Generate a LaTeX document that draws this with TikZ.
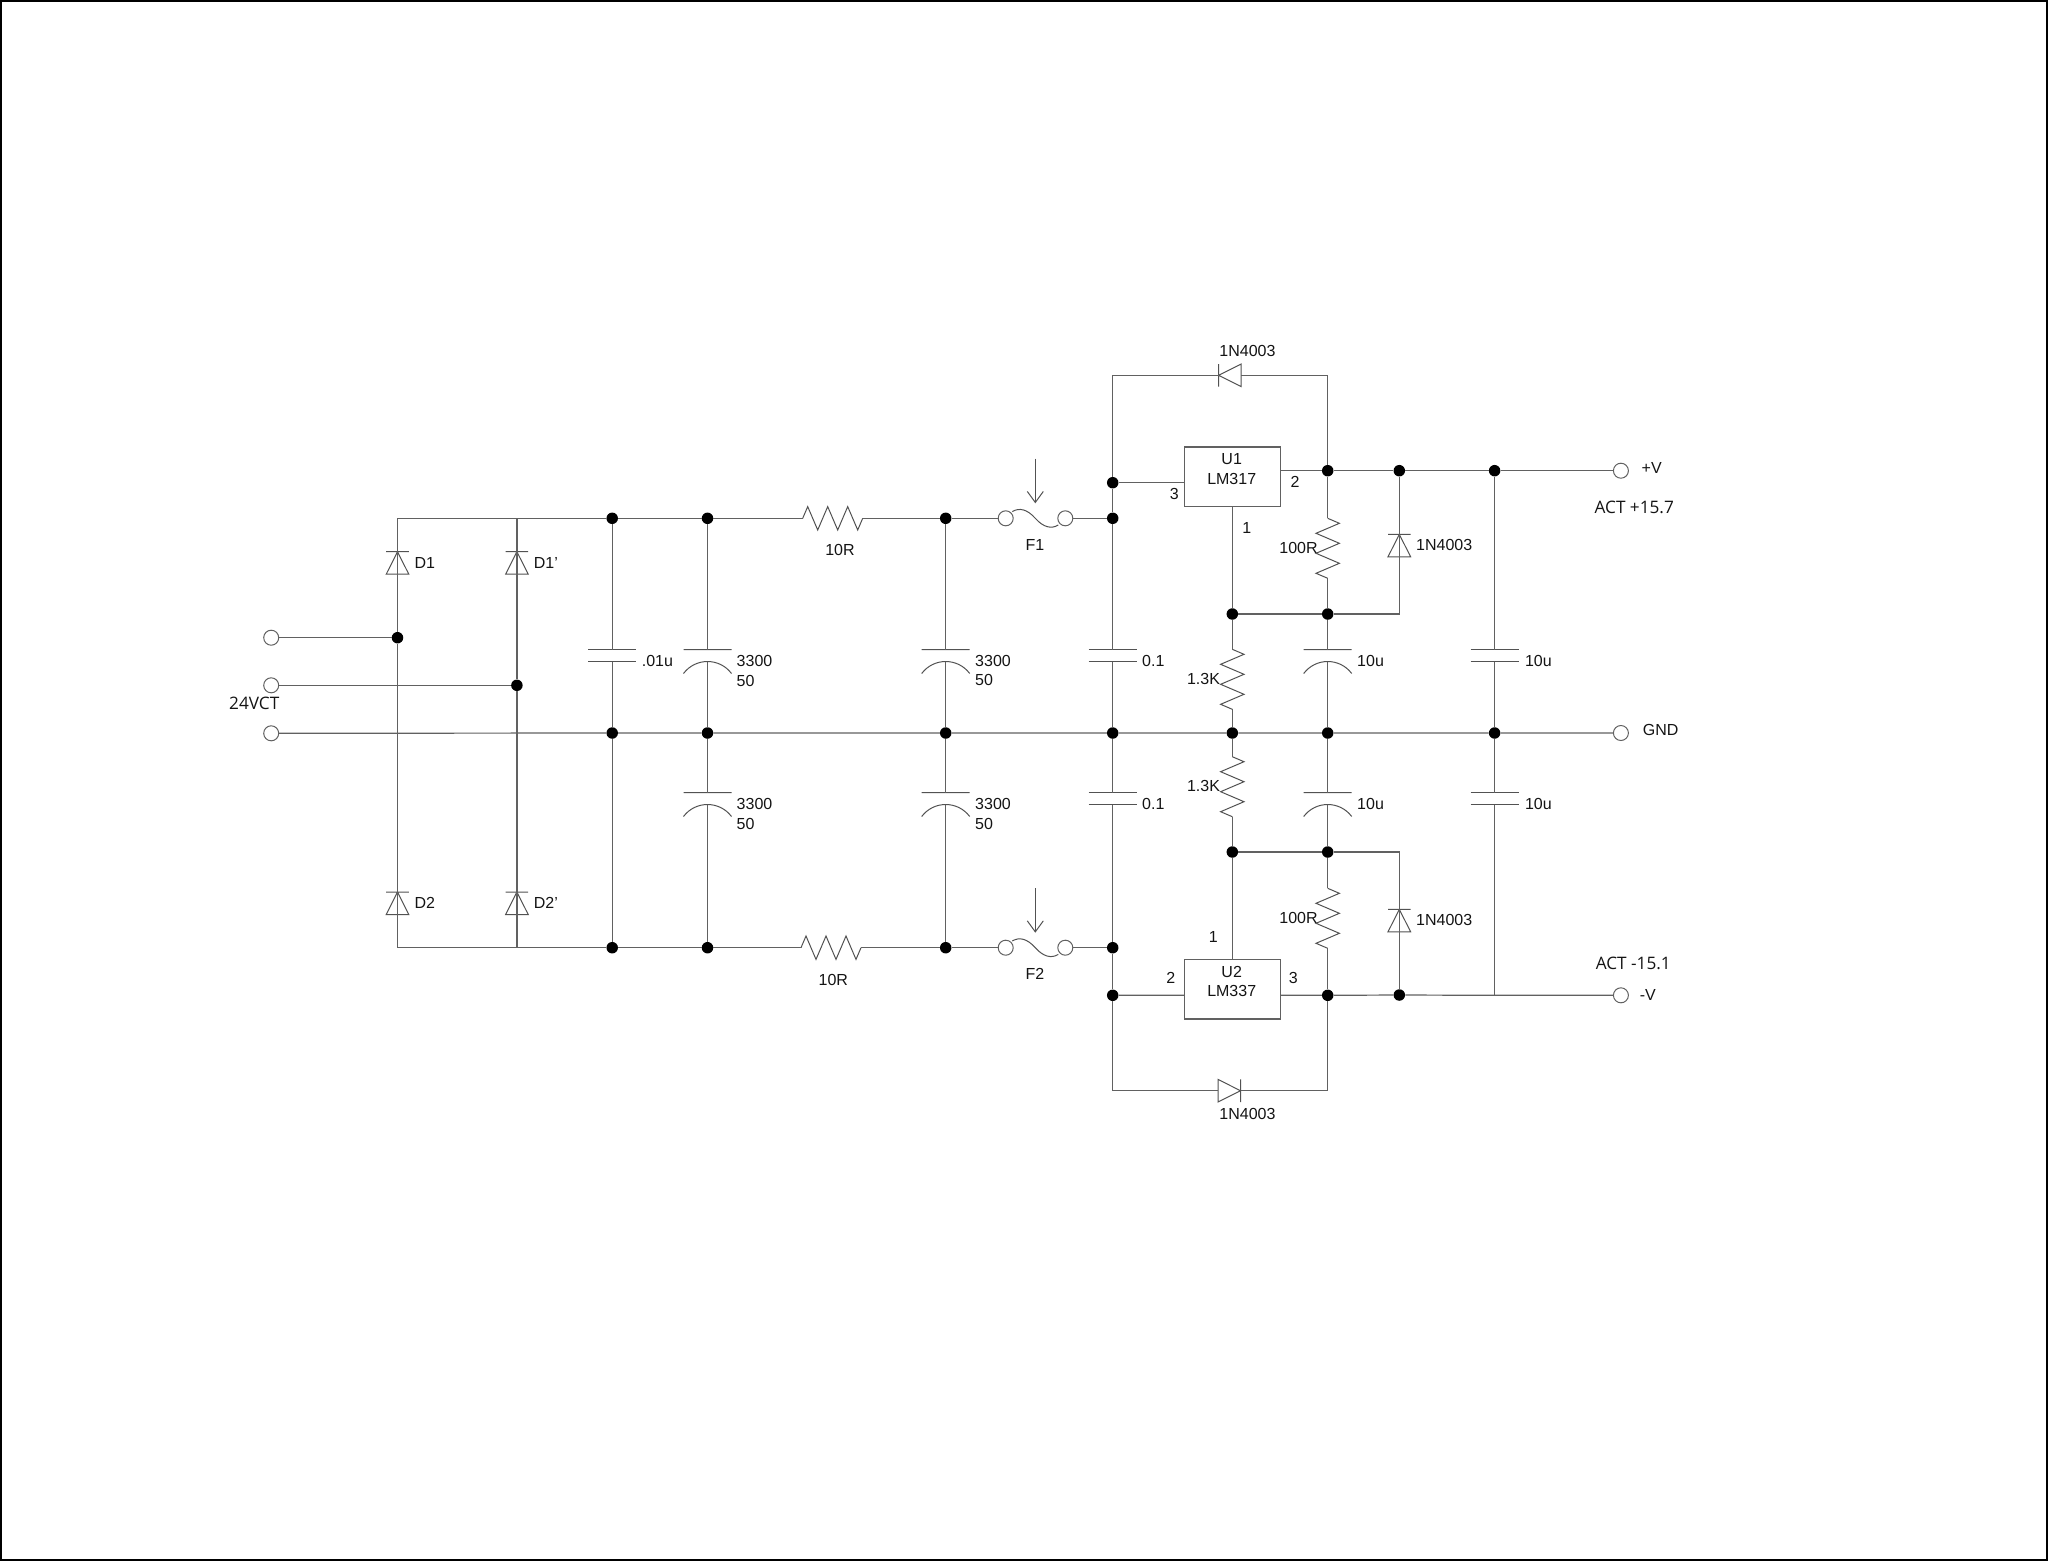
\documentclass[tikz,border=0pt]{standalone}
\usepackage{fontspec}
\setmainfont{Liberation Sans}
\newfontfamily\actfont{Open Sans}
\usetikzlibrary{arrows.meta}

\tikzset{
  wire/.style={line width=1.2pt,color=black!62},
  thin wire/.style={line width=1pt,color=black!68},
  dot/.style={circle,fill=black,inner sep=0pt,minimum size=11.5pt},
  term/.style={circle,draw=black!62,line width=1pt,inner sep=0pt,minimum size=15pt},
  lab/.style={inner sep=0pt,text height=11.5pt,text depth=0pt,font=\fontsize{16}{18}\selectfont,text=black!92},
  act/.style={lab,anchor=west,font=\actfont\fontsize{17.2}{19}\selectfont},
  reg/.style={draw=black!62,line width=1.2pt,inner sep=0pt,minimum width=95.6pt,minimum height=59.3pt},
  pics/capf/.style={code={\draw[thin wire] (-24,0)--(24,0) (-24,12)--(24,12);}},
  pics/cape/.style={code={\draw[thin wire] (-24,0)--(24,0) (-24,24) .. controls (-12,8) and (12,8) .. (24,24);}},
  pics/resz/.style={code={\draw[thin wire] (0,0)--(5,-11.7)--(15,11.7)--(25,-11.7)--(35,11.7)--(45,-11.7)--(55,11.7)--(60,0);}},
  pics/diod/.style={code={\draw[thin wire] (0,-11.3)--(0,11.3) (0,0)--(22.5,-11.3)--(22.5,11.3)--cycle;}},
}

\begin{document}
\begin{tikzpicture}[x=1pt,y=-1pt]
\useasboundingbox (0,0) rectangle (2048,1561);
\draw[line width=2pt] (1,1) rectangle (2047,1560);

% junctions
\foreach \n/\x/\y in {i1/397.5/637.7,i2/516.9/685.3,
  j1/612.2/518.3,j2/707.5/518.3,j3/945.7/518.3,j4/1112.7/518.3,j5/1112.7/482.7,
  j6/1327.7/470.7,j7/1399.3/470.7,j8/1494.6/470.7,j9/1232.3/614,j10/1327.7/614,
  g1/612.2/733,g2/707.5/733,g3/945.7/733,g4/1112.7/733,g5/1232.3/733,g6/1327.7/733,g7/1494.6/733,
  j11/1232.3/852,j12/1327.7/852,
  b1/612.2/947.7,b2/707.5/947.7,b3/945.7/947.7,b4/1112.7/947.7,
  b5/1112.7/995.3,b6/1327.7/995.3,b7/1399.3/995}
{
\node[dot] (\n) at (\x,\y) {};
}

% terminals
\foreach \n/\x/\y in {t1/271.2/637.7,t2/271.2/685.3,t3/271.2/733.3,t4/1620.9/470.7,t5/1620.9/733,t6/1620.9/995.3}
{
\node[term] (\n) at (\x,\y) {};
}

% corners
\foreach \n/\x/\y in {a1/397.5/518.3,a2/516.9/518.3,a3/397.5/947.7,a4/516.9/947.7,
  k1/1112.7/375.3,k2/1327.7/375.3,k3/1112.7/1090.7,k4/1327.7/1090.7,
  k5/1399.3/614,k6/1399.3/852,k7/1494.6/995.3}
{
\coordinate (\n) at (\x,\y);
}

% capacitors
\foreach \n/\x/\y/\k in {c1/612.2/649.5/capf,c2/707.5/649.5/cape,c3/945.7/649.5/cape,c4/1112.7/649.5/capf,
  c5/1327.7/649.5/cape,c6/1494.6/649.5/capf,c7/707.5/792.5/cape,c8/945.7/792.5/cape,
  c9/1112.7/792.5/capf,c10/1327.7/792.5/cape,c11/1494.6/792.5/capf}
{
\pic at (\x,\y) {\k};
\coordinate (\n a) at (\x,\y);
\coordinate (\n b) at (\x,\y+12);
}

% resistors
\foreach \n/\x/\y/\r in {r1/802.7/518.3/0,r2/801/947.7/0,r3/1327.7/518.3/-90,r4/1232.3/649.3/-90,
  r5/1232.3/756.7/-90,r6/1327.7/888.3/-90}
{
\pic[rotate=\r] at (\x,\y) {resz};
\path[shift={(\x,\y)},rotate=\r] (0,0) coordinate (\n a) (60,0) coordinate (\n b);
}

% diodes
\foreach \x/\y/\r in {397.5/551.7/-90,516.9/551.7/-90,397.5/892/-90,516.9/892/-90,
  1399.3/534.3/-90,1399.3/909.3/-90}
{
\pic[rotate=\r] at (\x,\y) {diod};
}
\pic at (1218.6,375.3) {diod};
\pic[rotate=180] at (1240.5,1090.7) {diod};
\coordinate (d3a) at (1218.6,375.3);
\coordinate (d3b) at (1241.1,375.3);
\coordinate (d4a) at (1218,1090.7);
\coordinate (d4b) at (1240.5,1090.7);

% fuses
\foreach \i/\y in {1/518.3,2/947.7}
{
\node[term] (f\i l) at (1005.7,\y) {};
\node[term] (f\i r) at (1065.3,\y) {};
\coordinate (s\i) at (1035.3,\y-59.7);
\coordinate (e\i) at (1035.3,\y-15);
\draw[thin wire] (1012.3,\y-6.7) .. controls (1019.3,\y-11) and (1027.3,\y-9) .. (1035.3,\y)
  .. controls (1043.3,\y+9) and (1051.3,\y+11) .. (1058.3,\y+6.7);
\draw[thin wire,-{Straight Barb[length=11pt,width=16pt]}] (s\i)--(e\i);
}

% regulators
\node[reg] (u1) at (1232.3,476.7) {};
\node[reg] (u2) at (1232.3,989.3) {};

\draw[wire] (a1)--(a2)--(j1)--(j2)--(r1a) (r1b)--(j3)--(f1l) (f1r)--(j4);
\draw[wire] (a3)--(a4)--(b1)--(b2)--(r2a) (r2b)--(b3)--(f2l) (f2r)--(b4);
\draw[wire] (t3)--(g1)--(g2)--(g3)--(g4)--(g5)--(g6)--(g7)--(t5);
\draw[wire] (a1)--(i1)--(a3) (a2)--(i2)--(a4) (t1)--(i1) (t2)--(i2);
\draw[wire] (j1)--(c1a) (c1b)--(g1)--(b1);
\draw[wire] (j2)--(c2a) (c2b)--(g2)--(c7a) (c7b)--(b2);
\draw[wire] (j3)--(c3a) (c3b)--(g3)--(c8a) (c8b)--(b3);
\draw[wire] (j4)--(c4a) (c4b)--(g4)--(c9a) (c9b)--(b4);
\draw[wire] (j4)--(j5)--(k1)--(d3a) (d3b)--(k2)--(j6);
\draw[wire] (b4)--(b5)--(k3)--(d4a) (d4b)--(k4)--(b6);
\draw[wire] (j5)--(j5-|u1.west) (u1.east|-j6)--(j6)--(j7)--(j8)--(t4) (u1.south)--(j9);
\draw[wire] (j6)--(r3a) (r3b)--(j10) (j9)--(j10)--(k5)--(j7);
\draw[wire] (j9)--(r4a) (r4b)--(g5)--(r5a) (r5b)--(j11)--(u2.north);
\draw[wire] (j10)--(c5a) (c5b)--(g6)--(c10a) (c10b)--(j12)--(r6a) (r6b)--(b6);
\draw[wire] (j11)--(j12)--(k6)--(b7);
\draw[wire] (j8)--(c6a) (c6b)--(g7)--(c11a) (c11b)--(k7);
\draw[wire] (b5)--(b5-|u2.west) (u2.east|-b6)--(b6)--(b7)--(k7)--(t6);

% left aligned labels
\foreach \n/\x/\y/\t in {l1/414.3/562.7/D1,l2/533.7/562.7/D1',l3/414.3/902.3/D2,l4/533.7/902.3/D2',
  l5/641.6/661/.01u,l6/736.5/661/3300,l7/736.5/680.3/50,l8/736.5/804/3300,l9/736.5/823.3/50,
  l10/975/660.7/3300,l11/975/680/50,l12/975/804/3300,l13/975/823.3/50,
  l14/1142/660.7/0.1,l15/1142/804/0.1,l16/1357/660.7/10u,l17/1357/804/10u,
  l18/1524.8/660.7/10u,l19/1524.8/804/10u,l20/1416/545/1N4003,l21/1416/920/1N4003,
  l22/1641.5/468/+V,l23/1642.7/730/GND,l24/1639.6/995/-V}
{
\node[lab,anchor=west] (\n) at (\x,\y) {\t};
}
\node[act] (act1) at (1594.4,507.3) {ACT +15.7};
\node[act] (act2) at (1595.6,963.3) {ACT -15.1};
\node[act] (vct) at (229,704) {24VCT};

% centred labels
\foreach \n/\x/\y/\t in {m1/1247.5/350.7/1N4003,m2/1247.5/1113.3/1N4003,
  m3/1231.7/458.7/U1,m4/1231.7/478.3/LM317,m5/1231.7/971.7/U2,m6/1231.7/991/LM337,
  m7/1174.3/493.3/3,m8/1246.7/527.7/1,m9/1295/482/2,m10/1213.3/936.7/1,m11/1170.7/977.3/2,m12/1293.3/977.3/3,
  m13/840/550/10R,m14/833.3/979.3/10R,m15/1035/545/F1,m16/1035/974/F2,
  m17/1203.5/679/1.3K,m18/1203.5/786/1.3K,m19/1298.5/547.3/100R,m20/1298.5/917.3/100R}
{
\node[lab] (\n) at (\x,\y) {\t};
}
\end{tikzpicture}
\end{document}
